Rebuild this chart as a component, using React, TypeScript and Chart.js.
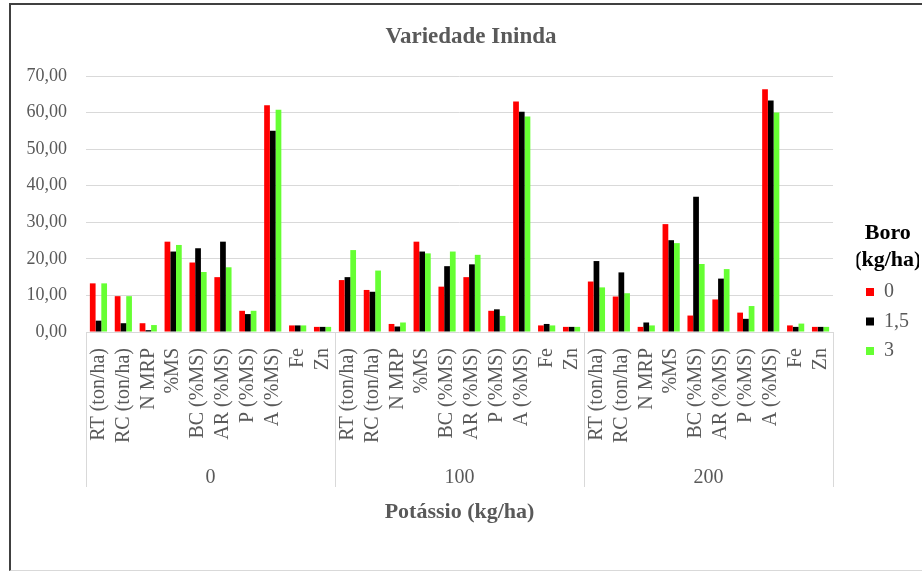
import React, { useEffect, useRef } from "react";
import { Chart, registerables } from "chart.js";

Chart.register(...registerables);

const chartTitle = "Variedade Ininda";
const xAxisTitle = "Potássio (kg/ha)";
const legendTitle = ["Boro", "(kg/ha)"];
const indicators = ["RT (ton/ha)", "RC (ton/ha)", "N MRP", "%MS", "BC (%MS)", "AR (%MS)", "P (%MS)", "A (%MS)", "Fe", "Zn"];
const potassioLevels = ["0", "100", "200"];
const boroLevels = ["0", "1,5", "3"];
const boro0 = [13.3, 9.8, 2.4, 24.7, 19.0, 15.0, 5.8, 62.0, 1.8, 1.4, 14.2, 11.5, 2.2, 24.7, 12.4, 15.0, 5.8, 63.0, 1.8, 1.4, 13.8, 9.7, 1.4, 29.5, 4.5, 8.9, 5.3, 66.4, 1.8, 1.4];
const boro15 = [3.1, 2.4, 0.5, 22.0, 22.9, 24.7, 4.9, 55.0, 1.8, 1.4, 15.0, 11.0, 1.5, 22.0, 18.0, 18.5, 6.2, 60.2, 2.2, 1.4, 19.4, 16.3, 2.6, 25.1, 37.0, 14.6, 3.6, 63.3, 1.4, 1.4];
const boro3 = [13.3, 9.8, 1.9, 23.8, 16.4, 17.7, 5.8, 60.8, 1.8, 1.4, 22.4, 16.8, 2.6, 21.5, 22.0, 21.1, 4.4, 58.9, 1.8, 1.4, 12.2, 10.6, 1.8, 24.3, 18.6, 17.2, 7.1, 60.0, 2.3, 1.4];
const yMin = 0;
const yMax = 70;
const yStep = 10;
const seriesColors = ["#FF0000", "#000000", "#66FF33"];

const SERIF = "'Liberation Serif', 'Times New Roman', serif";
const TEXT = "#595959";
const GRID = "#d9d9d9";

const groupLines = {
  id: "groupLines",
  afterDraw(chart: any) {
    const xs = chart.scales.x;
    const x2 = chart.scales.x2;
    const ctx = chart.ctx;
    const y0 = chart.chartArea.bottom;
    const y1 = x2.top + 42;
    ctx.save();
    ctx.strokeStyle = GRID;
    ctx.lineWidth = 1;
    for (let g = 0; g <= potassioLevels.length; g++) {
      const px = Math.round(xs.getPixelForValue(g * indicators.length - 0.5)) + 0.5;
      ctx.beginPath();
      ctx.moveTo(px, y0);
      ctx.lineTo(px, y1);
      ctx.stroke();
    }
    ctx.restore();
  },
};

export default function App() {
  const ref = useRef<HTMLCanvasElement>(null);

  useEffect(() => {
    if (!ref.current) return;
    const labels = potassioLevels.flatMap(() => indicators);
    const series = [boro0, boro15, boro3];
    const chart = new Chart(ref.current, {
      type: "bar",
      data: {
        labels,
        datasets: boroLevels.map((b, i) => ({
          label: b,
          data: series[i],
          backgroundColor: seriesColors[i],
          borderWidth: 0,
          xAxisID: "x",
          yAxisID: "y",
          barPercentage: 1,
          categoryPercentage: 0.69,
        })),
      },
      options: {
        animation: false,
        responsive: false,
        devicePixelRatio: 1,
        layout: { padding: { left: 12, right: 3, top: 0, bottom: 2.8 } },
        plugins: {
          title: {
            display: true,
            text: chartTitle,
            color: TEXT,
            font: { family: SERIF, size: 23, weight: "bold" },
            padding: { top: 18, bottom: 25.4 },
          },
          legend: {
            position: "right",
            align: "center",
            title: {
              display: true,
              text: legendTitle as any,
              color: "#000000",
              font: { family: SERIF, size: 22, weight: "bold", lineHeight: "27px" },
              padding: 23,
            },
            labels: {
              boxWidth: 8,
              boxHeight: 8,
              color: TEXT,
              font: { family: SERIF, size: 20 },
              padding: 9.5,
            },
          },
          tooltip: { enabled: false },
        },
        scales: {
          x: {
            type: "category",
            position: "bottom",
            weight: 0,
            grid: { display: false },
            border: { display: false },
            ticks: {
              autoSkip: false,
              maxRotation: 90,
              minRotation: 90,
              color: TEXT,
              font: { family: SERIF, size: 20 },
              padding: 8,
            },
            afterFit: (s: any) => {
              s.height = 113;
            },
          },
          x2: {
            type: "category",
            position: "bottom",
            weight: 1,
            labels: potassioLevels,
            offset: true,
            grid: { display: false },
            border: { display: false },
            ticks: { color: TEXT, font: { family: SERIF, size: 20 }, padding: 13 },
            title: {
              display: true,
              text: xAxisTitle,
              color: TEXT,
              font: { family: SERIF, size: 22, weight: "bold" },
              padding: { top: 0, bottom: 40 },
            },
            afterFit: (s: any) => {
              s.height = 120.2;
            },
          },
          y: {
            type: "linear",
            position: "left",
            min: yMin,
            max: yMax,
            grid: { color: GRID, lineWidth: 1, drawTicks: false },
            border: { display: false },
            ticks: {
              stepSize: yStep,
              color: TEXT,
              font: { family: SERIF, size: 18 },
              padding: 19,
              callback: (v: any) => Number(v).toFixed(2).replace(".", ","),
            },
            afterFit: (s: any) => {
              s.width = 63;
            },
          },
          yR: {
            type: "linear",
            position: "right",
            grid: { display: false },
            border: { display: false },
            ticks: { display: false },
            afterFit: (s: any) => {
              s.width = 23.5;
            },
          },
        },
      } as any,
      plugins: [groupLines],
    });
    return () => chart.destroy();
  }, []);

  return (
    <div style={{ position: "absolute", left: 0, top: 0, width: 922, height: 571, background: "#fff", overflow: "hidden" }}>
      <div
        style={{
          position: "absolute",
          left: 9,
          top: 3,
          width: 930,
          height: 565,
          borderLeft: "2px solid #404040",
          borderTop: "2px solid #404040",
          borderBottom: "1px solid #d9d9d9",
        }}
      />
      <canvas
        ref={ref}
        width={911}
        height={563}
        style={{ position: "absolute", left: 11, top: 5, width: 911, height: 563 }}
      />
    </div>
  );
}
